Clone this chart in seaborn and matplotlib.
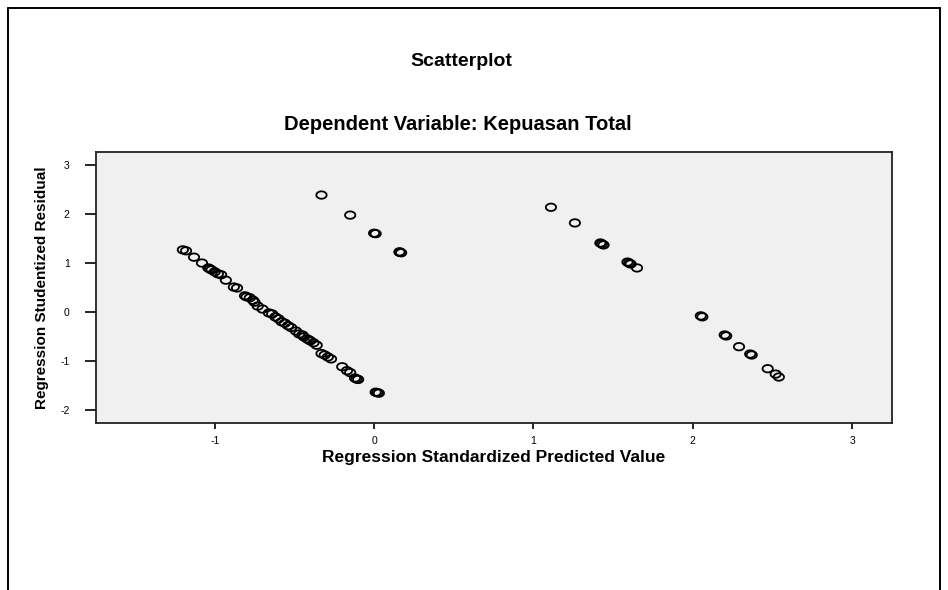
import numpy as np
import matplotlib
matplotlib.use("Agg")
import matplotlib.pyplot as plt
from matplotlib.path import Path
from matplotlib.lines import Line2D
import seaborn as sns
import pandas as pd

# ---- data ----
pred_left = [-1.20, -1.18, -1.13, -1.08, -1.04, -1.03, -1.02, -1.00, -0.98, -0.96,
             -0.93, -0.88, -0.86, -0.81, -0.80, -0.78, -0.76, -0.75, -0.73, -0.70,
             -0.66, -0.64, -0.62, -0.60, -0.58, -0.56, -0.54, -0.52, -0.49, -0.47,
             -0.45, -0.44, -0.42, -0.41, -0.40, -0.38, -0.36, -0.33, -0.31, -0.29,
             -0.27, -0.20, -0.17, -0.15, -0.12, -0.11, -0.10, 0.01, 0.02, 0.03]
resid_left = [1.27, 1.25, 1.12, 1.00, 0.90, 0.88, 0.86, 0.82, 0.78, 0.76,
              0.65, 0.51, 0.49, 0.33, 0.31, 0.29, 0.24, 0.20, 0.12, 0.06,
              -0.02, -0.04, -0.10, -0.14, -0.20, -0.23, -0.28, -0.32, -0.39, -0.45,
              -0.47, -0.51, -0.55, -0.57, -0.59, -0.63, -0.68, -0.85, -0.88, -0.92,
              -0.96, -1.12, -1.20, -1.24, -1.35, -1.37, -1.38, -1.64, -1.65, -1.66]
pred_mid = [-0.33, -0.15, 0.00, 0.01, 0.16, 0.17, 0.16]
resid_mid = [2.39, 1.98, 1.61, 1.60, 1.22, 1.21, 1.23]
pred_up = [1.11, 1.26, 1.42, 1.43, 1.44, 1.59, 1.60, 1.61, 1.65]
resid_up = [2.14, 1.82, 1.41, 1.39, 1.37, 1.02, 1.00, 0.98, 0.90]
pred_low = [2.05, 2.06, 2.20, 2.21, 2.29, 2.36, 2.37, 2.47, 2.52, 2.54]
resid_low = [-0.08, -0.10, -0.47, -0.49, -0.71, -0.86, -0.88, -1.16, -1.27, -1.33]

x_ticks = [-1, 0, 1, 2, 3]
y_ticks = [-2, -1, 0, 1, 2, 3]

title = "Scatterplot"
subtitle = "Dependent Variable: Kepuasan Total"
x_label = "Regression Standardized Predicted Value"
y_label = "Regression Studentized Residual"

df = pd.DataFrame({
    "pred": pred_left + pred_mid + pred_up + pred_low,
    "resid": resid_left + resid_mid + resid_up + resid_low,
})

sns.set_style("white")
plt.rcParams["font.family"] = ["Liberation Sans", "DejaVu Sans"]
plt.rcParams["text.color"] = "black"
plt.rcParams["axes.labelcolor"] = "black"

fig = plt.figure(figsize=(9.48, 5.90), dpi=100)
ax = fig.add_axes([96 / 948, 1 - 423 / 590, (892 - 96) / 948, (423 - 152) / 590])
ax.set_facecolor("#f0f0f0")

# elliptical open marker
t = np.linspace(0, 2 * np.pi, 41)
ell = Path(np.column_stack([np.cos(t), 0.72 * np.sin(t)]), closed=True)

sns.scatterplot(data=df, x="pred", y="resid", ax=ax, marker=ell, s=55,
                edgecolor="black", linewidth=1.3, legend=False)
for coll in ax.collections:
    coll.set_facecolor("none")
    coll.set_edgecolor("black")

ax.set_xlim(-1.745, 3.25)
ax.set_ylim(-2.27, 3.27)
ax.set_xticks(x_ticks)
ax.set_yticks(y_ticks)
ax.set_xticklabels([str(v) for v in x_ticks])
ax.set_yticklabels([str(v) for v in y_ticks])

for s in ax.spines.values():
    s.set_visible(True)
    s.set_color("#222222")
    s.set_linewidth(1.3)

ax.tick_params(axis="x", direction="out", length=4.5, width=1.2, pad=5,
               labelsize=7.5, bottom=True, top=False, colors="black")
ax.tick_params(axis="y", direction="out", length=8, width=1.2, pad=11,
               labelsize=7.5, left=True, right=False, colors="black")

ax.set_xlabel(x_label, fontsize=12.5, fontweight="bold", labelpad=3)
ax.set_ylabel(y_label, fontsize=11, fontweight="bold", labelpad=8)

fig.text(461 / 948, 1 - 61 / 590, title, ha="center", va="center",
         fontsize=14, fontweight="bold")
fig.text(458 / 948, 1 - 125 / 590, subtitle, ha="center", va="center",
         fontsize=14.5, fontweight="bold")

# outer frame
lw = 1.4
fig.add_artist(Line2D([8 / 948, 940 / 948], [1 - 8 / 590, 1 - 8 / 590],
                      transform=fig.transFigure, color="black", lw=lw))
fig.add_artist(Line2D([8 / 948, 8 / 948], [0, 1 - 8 / 590],
                      transform=fig.transFigure, color="black", lw=lw))
fig.add_artist(Line2D([940 / 948, 940 / 948], [0, 1 - 8 / 590],
                      transform=fig.transFigure, color="black", lw=lw))

fig.savefig("out.png", dpi=100, facecolor="white")
